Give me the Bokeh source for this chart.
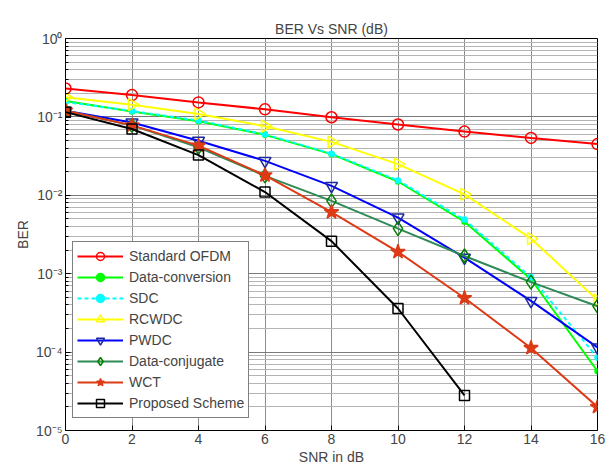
import numpy as np
from bokeh.plotting import figure
from bokeh.models import FixedTicker, Legend
from bokeh.embed import file_html
from bokeh.resources import INLINE

snr = [0, 2, 4, 6, 8, 10, 12, 14, 16]
snr_proposed = [0, 2, 4, 6, 8, 10, 12]

std_ofdm = [0.23, 0.19, 0.153, 0.125, 0.099, 0.080, 0.065, 0.054, 0.045]
data_conv = [0.16, 0.117, 0.088, 0.059, 0.0335, 0.015, 0.0046, 0.00085, 0.000057]
sdc = [0.155, 0.119, 0.09, 0.06, 0.034, 0.0155, 0.0049, 0.0009, 0.000085]
rcwdc = [0.178, 0.143, 0.109, 0.076, 0.048, 0.025, 0.0103, 0.0028, 0.00046]
pwdc = [0.12, 0.085, 0.0496, 0.0275, 0.0132, 0.0052, 0.0016, 0.00045, 0.000115]
data_conj = [0.12, 0.078, 0.041, 0.0177, 0.0085, 0.00375, 0.00168, 0.00078, 0.000385]
wct = [0.12, 0.078, 0.043, 0.018, 0.0061, 0.0019, 0.00049, 0.000113, 0.00002]
proposed = [0.115, 0.07, 0.0326, 0.011, 0.0026, 0.00036, 0.000028]

x_ticks = [0, 2, 4, 6, 8, 10, 12, 14, 16]
y_ticks = [1e-5, 1e-4, 1e-3, 1e-2, 1e-1, 1e0]
y_tick_labels = ["10\u207b\u2075", "10\u207b\u2074", "10\u207b\u00b3", "10\u207b\u00b2", "10\u207b\u00b9", "10\u2070"]

FONT = "Liberation Sans"

p = figure(width=608, height=467, y_axis_type="log", x_range=(0, 16), y_range=(1e-5, 1),
           output_backend="svg", toolbar_location=None,
           min_border_left=65, min_border_right=11, min_border_top=38, min_border_bottom=37,
           title="BER Vs SNR (dB)")
p.title.align = "center"
p.title.text_font = FONT
p.title.text_font_size = "14px"
p.title.text_font_style = "normal"
p.title.standoff = 4

p.outline_line_color = "black"
p.outline_line_width = 1

p.xaxis.ticker = FixedTicker(ticks=x_ticks)
minor = [m * 10.0 ** e for e in range(-5, 0) for m in range(2, 10)]
p.yaxis.ticker = FixedTicker(ticks=y_ticks, minor_ticks=minor)
p.yaxis.major_label_overrides = {t: l for t, l in zip(y_ticks, y_tick_labels)}

for ax in (p.xaxis, p.yaxis):
    ax.major_label_text_font = FONT
    ax.major_label_text_font_size = "14px"
    ax.axis_label_text_font = FONT
    ax.axis_label_text_font_size = "14px"
    ax.axis_label_text_font_style = "normal"
    ax.major_tick_out = 0
    ax.major_tick_in = 5
    ax.minor_tick_out = 0
    ax.minor_tick_in = 3
    ax.axis_line_color = "black"
    ax.major_tick_line_color = "black"
    ax.minor_tick_line_color = "black"
    ax.major_label_standoff = 3
    ax.axis_label_standoff = 2
p.xaxis.axis_label = "SNR in dB"
p.yaxis.axis_label = "BER"
p.xaxis.minor_tick_line_color = None

p.xgrid.grid_line_color = "#8c8c8c"
p.ygrid.grid_line_color = "#7a7a7a"
p.ygrid.minor_grid_line_color = "#b4b4b4"
p.xgrid.grid_line_width = 1
p.ygrid.grid_line_width = 1

items = []

def series(x, y, name, color, marker, size, fill, mcolor=None, dash="solid", lw=2, angle=0.0):
    r1 = p.line(x, y, line_color=color, line_width=lw, line_dash=dash)
    r2 = p.scatter(x, y, marker=marker, size=size, line_color=mcolor or color,
                   fill_color=fill, line_width=1.5, angle=angle)
    items.append((name, [r1, r2]))

series(snr, std_ofdm, "Standard OFDM", "#ff0000", "circle", 11, None)
series(snr, data_conv, "Data-conversion", "#00ff00", "circle", 5, "#00ff00")
series(snr, sdc, "SDC", "#00ffff", "circle", 5, "#00ffff", dash="4 3")
series(snr, rcwdc, "RCWDC", "#ffff00", "triangle", 12, None, angle=-np.pi / 2)
series(snr, pwdc, "PWDC", "#0000ff", "inverted_triangle", 12, None, mcolor="#1a2a9a")
series(snr, data_conj, "Data-conjugate", "#2e8b57", "diamond", 14, None, mcolor="#007f00")
series(snr, wct, "WCT", "#dd3a16", "star", 15, "#dd3a16")
series(snr_proposed, proposed, "Proposed Scheme", "#000000", "square", 10, None)

legend = Legend(items=items, location=(7, 12))
legend.label_text_font = FONT
legend.label_text_font_size = "14px"
legend.label_height = 20
legend.glyph_height = 20
legend.glyph_width = 46
legend.spacing = 1
legend.padding = 4
legend.margin = 0
legend.label_standoff = 6
legend.border_line_color = "black"
legend.border_line_width = 1
legend.background_fill_color = "white"
legend.background_fill_alpha = 1
p.add_layout(legend, "center")

open("out.html", "w").write(file_html(p, INLINE))
